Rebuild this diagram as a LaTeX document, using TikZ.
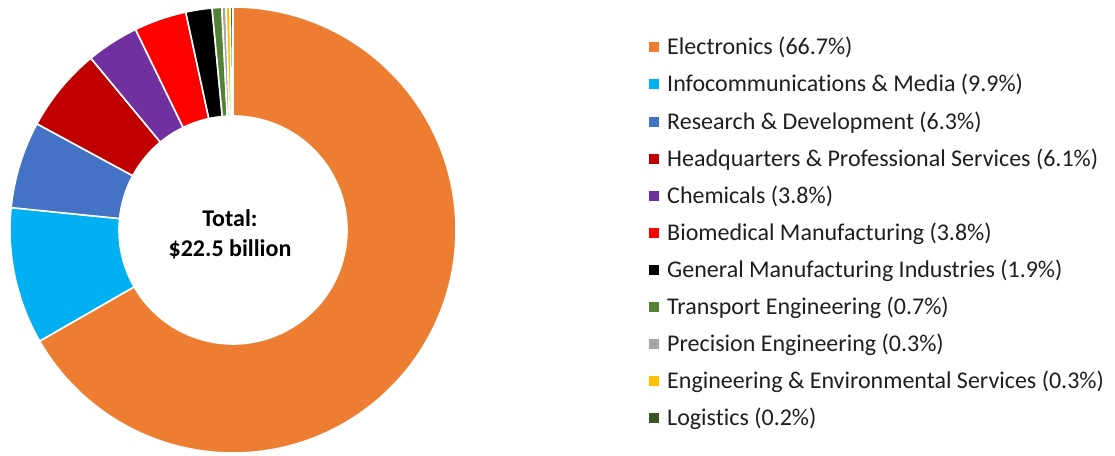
\documentclass[tikz,border=0pt]{standalone}
\usepackage{fontspec}
\setmainfont{Carlito}[Ligatures=NoCommon]
\definecolor{cElec}{HTML}{ED7D31}
\definecolor{cInfo}{HTML}{00B0F0}
\definecolor{cRD}{HTML}{4472C4}
\definecolor{cHQ}{HTML}{C00000}
\definecolor{cChem}{HTML}{7030A0}
\definecolor{cBio}{HTML}{FF0000}
\definecolor{cGen}{HTML}{000000}
\definecolor{cTrans}{HTML}{548235}
\definecolor{cPrec}{HTML}{A5A5A5}
\definecolor{cEnv}{HTML}{FFC000}
\definecolor{cLog}{HTML}{375623}
\begin{document}
\begin{tikzpicture}[x=1pt,y=1pt,
  slice/.style={fill=#1,draw=white,line width=1.6pt,line join=miter},
  legkey/.style={fill=#1,draw=none,minimum size=10pt,inner sep=0pt},
  legtext/.style={anchor=base west,inner sep=0pt,font=\fontsize{24}{28}\selectfont,text=black!88},
  centertext/.style={align=center,inner sep=0pt,font=\fontsize{24}{30}\selectfont\bfseries}]
\useasboundingbox[fill=white] (0,0) rectangle (1115,-455);
\coordinate (c) at (233,-230);
\begin{scope}[shift={(c)}]
\foreach \a/\b/\col in {90/-150.12/cElec, -150.12/-185.76/cInfo, -185.76/-208.44/cRD,
  -208.44/-230.40/cHQ, -230.40/-244.08/cChem, -244.08/-257.76/cBio, -257.76/-264.60/cGen,
  -264.60/-267.12/cTrans, -267.12/-268.20/cPrec, -268.20/-269.28/cEnv, -269.28/-270/cLog}{
  \path[slice=\col] (\a:223) arc[start angle=\a, end angle=\b, radius=223]
    -- (\b:114) arc[start angle=\b, end angle=\a, radius=114] -- cycle;
}
\end{scope}
\node[centertext] (total) at (230,-234) {Total:\\\$22.5 billion};
\foreach \i/\col/\txt in {0/cElec/Electronics (66.7\%),
  1/cInfo/Infocommunications \& Media (9.9\%),
  2/cRD/Research \& Development (6.3\%),
  3/cHQ/Headquarters \& Professional Services (6.1\%),
  4/cChem/Chemicals (3.8\%),
  5/cBio/Biomedical Manufacturing (3.8\%),
  6/cGen/General Manufacturing Industries (1.9\%),
  7/cTrans/Transport Engineering (0.7\%),
  8/cPrec/Precision Engineering (0.3\%),
  9/cEnv/Engineering \& Environmental Services (0.3\%),
  10/cLog/Logistics (0.2\%)}{
  \pgfmathsetmacro{\yy}{-47.3-37.1*\i}
  \node[legkey=\col] (key\i) at (654,\yy) {};
  \node[legtext] (lab\i) at (667,\yy-7.5) {\txt};
}
\end{tikzpicture}
\end{document}
